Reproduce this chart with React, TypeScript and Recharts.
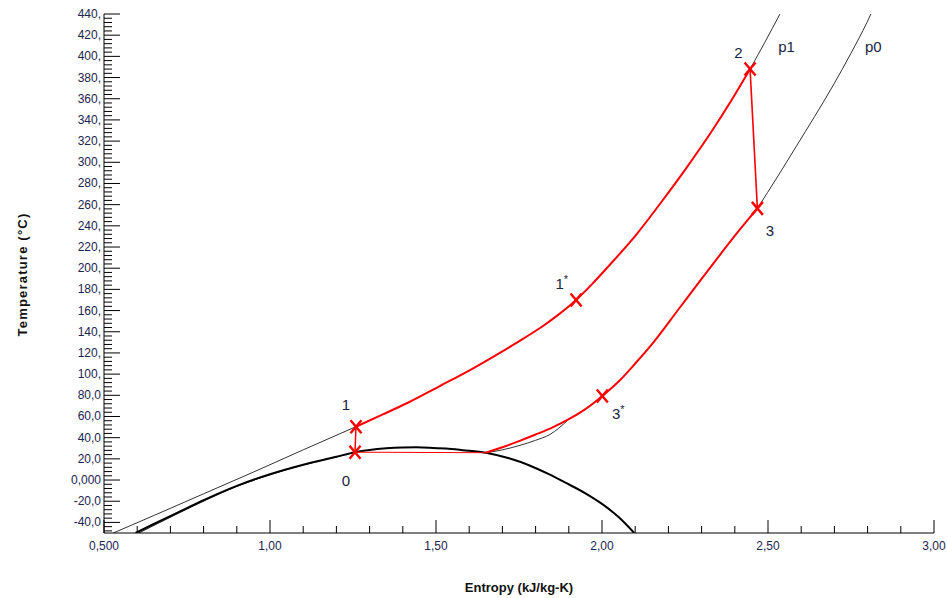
import { ComposedChart, Line, Scatter, XAxis, YAxis } from "recharts";

type Pt = [number, number]; // [entropy kJ/kg-K, temperature °C]

// saturation dome, liquid side -> critical point -> vapour side
const satDome: Pt[] = [
  [0.595, -50], [0.65, -41.5], [0.72, -31], [0.8, -19], [0.9, -5.5], [1.0, 5.5],
  [1.1, 14.5], [1.2, 22], [1.256, 26.3], [1.3, 28.4], [1.35, 29.9], [1.4, 30.7],
  [1.44, 30.9], [1.48, 30.6], [1.53, 29.7], [1.58, 28.2], [1.65, 25.8], [1.72, 20.5],
  [1.78, 14], [1.84, 5.5], [1.89, -2.5], [1.95, -12.5], [2.0, -22.5], [2.05, -35], [2.097, -50],
];

// isobars (black, thin)
const p0Liquid: Pt[] = [
  [0.605, -50], [0.72, -32], [0.81, -18.5], [0.9, -6], [1.0, 5], [1.1, 14.2], [1.2, 21.8], [1.256, 26.3],
];
const p1Liquid: Pt[] = [
  [0.528, -50], [0.65, -33.5], [0.8, -13], [0.95, 7.5], [1.1, 28.5], [1.259, 50.4],
];
const p0Vapour: Pt[] = [
  [1.65, 25.8], [1.7, 28.5], [1.75, 32.5], [1.8, 37.5], [1.843, 43], [1.87, 49], [1.9, 57.5],
];
const p0Top: Pt[] = [
  [2.468, 256.5], [2.53, 287], [2.586, 315.5], [2.64, 343], [2.697, 373], [2.75, 403], [2.798, 432], [2.81, 440],
];
const p1Top: Pt[] = [[2.446, 388], [2.49, 413], [2.536, 440]];

// cycle (red)
const highSide: Pt[] = [
  [1.259, 50.4], [1.34, 62], [1.412, 72.5], [1.51, 88.5], [1.612, 105.5], [1.7, 121.5],
  [1.763, 133.5], [1.82, 145], [1.864, 155], [1.922, 170], [1.97, 185], [2.02, 202],
  [2.104, 232], [2.18, 263], [2.255, 295], [2.33, 329], [2.39, 358.5], [2.446, 388],
];
const lowSide: Pt[] = [
  [1.65, 25.8], [1.7, 31], [1.75, 36.8], [1.8, 43], [1.853, 50], [1.9, 57.5], [1.95, 67],
  [2.001, 79.4], [2.05, 93], [2.1, 110], [2.155, 130], [2.23, 161], [2.305, 192],
  [2.36, 214.5], [2.41, 234.5], [2.468, 256.5],
];
const step23: Pt[] = [[2.446, 388], [2.468, 256.5]];
const step01: Pt[] = [[1.256, 26.3], [1.259, 50.4]];
const evaporation: Pt[] = [[1.256, 26.3], [1.65, 25.8]];

const statePoints = [
  { name: "0", s: 1.256, T: 26.3 },
  { name: "1", s: 1.259, T: 50.4 },
  { name: "1*", s: 1.922, T: 170 },
  { name: "2", s: 2.446, T: 388 },
  { name: "3", s: 2.468, T: 256.5 },
  { name: "3*", s: 2.001, T: 79.4 },
];

const pointLabels = [
  { text: "1", star: false, s: 1.229, T: 71 },
  { text: "0", star: false, s: 1.229, T: 0 },
  { text: "1", star: true, s: 1.879, T: 186 },
  { text: "2", star: false, s: 2.411, T: 404 },
  { text: "3", star: false, s: 2.506, T: 236 },
  { text: "3", star: true, s: 2.049, T: 63 },
  { text: "p1", star: false, s: 2.556, T: 409 },
  { text: "p0", star: false, s: 2.817, T: 409 },
];

const xMajor = [0.5, 1.0, 1.5, 2.0, 2.5, 3.0];
const yMajor = [-40, -20, 0, 20, 40, 60, 80, 100, 120, 140, 160, 180, 200, 220, 240, 260, 280, 300, 320, 340, 360, 380, 400, 420, 440];

// minor tick marks: every 0.1 on s, every 4 °C on T
const xTicks = Array.from({ length: 26 }, (_, i) => (i + 5) / 10);
const yTicks = Array.from({ length: 123 }, (_, i) => -48 + i * 4);

const rows = (pts: Pt[]) => pts.map(([s, T]) => ({ s, T }));

const FONT = '"Liberation Sans", Arial, sans-serif';
const LABEL = "#1c2450";

const fmt = (v: number) => {
  if (v === 0) return "0,000";
  const t = v.toPrecision(3).replace(".", ",");
  return Math.abs(v) >= 100 ? t + "," : t;
};

const isXMajor = (v: number) => xMajor.some((m) => Math.abs(m - v) < 1e-6);

const LeftTick = ({ x, y, payload }: any) => {
  const major = yMajor.includes(payload.value);
  return (
    <g>
      <line x1={x} x2={x + (major ? 16 : 8)} y1={y} y2={y} stroke="#000" />
      {major && (
        <text x={x - 3} y={y} textAnchor="end" dominantBaseline="central" fontSize={12} fill={LABEL} fontFamily={FONT}>
          {fmt(payload.value)}
        </text>
      )}
    </g>
  );
};

const RightTick = ({ x, y, payload }: any) => {
  const major = yMajor.includes(payload.value);
  return <line x1={x} x2={x - (major ? 9 : 5)} y1={y} y2={y} stroke="#000" />;
};

const BottomTick = ({ x, y, payload }: any) => {
  const major = isXMajor(payload.value);
  return (
    <g>
      <line x1={x} x2={x} y1={y} y2={y - (major ? 13 : 7)} stroke="#000" />
      {major && (
        <text x={x} y={y + 13} textAnchor="middle" dominantBaseline="central" fontSize={12} fill={LABEL} fontFamily={FONT}>
          {fmt(payload.value)}
        </text>
      )}
    </g>
  );
};

const TopTick = ({ x, y, payload }: any) => {
  const major = isXMajor(payload.value);
  return <line x1={x} x2={x} y1={y} y2={y + (major ? 13 : 8)} stroke="#000" />;
};

const Cross = ({ cx, cy }: any) => (
  <g stroke="#f00" strokeWidth={2.4}>
    <line x1={cx - 5.5} y1={cy - 6.5} x2={cx + 5.5} y2={cy + 6.5} />
    <line x1={cx - 5.5} y1={cy + 6.5} x2={cx + 5.5} y2={cy - 6.5} />
  </g>
);

const PointText = ({ cx, cy, payload }: any) => (
  <text x={cx} y={cy} textAnchor="middle" dominantBaseline="central" fontSize={15} fill="#1a2340" fontFamily={FONT}>
    {payload.text}
    {payload.star && (
      <tspan fontSize={11} dy={-4}>
        *
      </tspan>
    )}
  </text>
);

const curve = (pts: Pt[], stroke: string, width: number, type: "monotone" | "linear" = "monotone") => (
  <Line
    data={rows(pts)}
    dataKey="T"
    type={type}
    stroke={stroke}
    strokeWidth={width}
    dot={false}
    activeDot={false}
    isAnimationActive={false}
  />
);

export default function App() {
  return (
    <>
      <style>{"body { margin: 0; }"}</style>
      <div style={{ padding: "8px 0 0 8px", width: 939, height: 590 }}>
        <ComposedChart width={939} height={590} margin={{ top: 6, right: 13, bottom: 0, left: 0 }}>
          <XAxis
            dataKey="s"
            type="number"
            domain={[0.5, 3]}
            allowDataOverflow
            ticks={xTicks}
            interval={0}
            tick={BottomTick}
            tickLine={false}
            tickSize={0}
            tickMargin={0}
            height={65}
            axisLine={{ stroke: "#000" }}
            label={(props: any) => {
              const { x, y, width } = props.viewBox;
              return (
                <text x={x + width / 2} y={y + 54} textAnchor="middle" dominantBaseline="central" fontSize={13} fontWeight="bold" fill="#111" fontFamily={FONT}>
                  Entropy (kJ/kg-K)
                </text>
              );
            }}
          />
          <XAxis
            xAxisId="top"
            orientation="top"
            dataKey="s"
            type="number"
            domain={[0.5, 3]}
            allowDataOverflow
            ticks={xTicks}
            interval={0}
            tick={TopTick}
            tickLine={false}
            tickSize={0}
            tickMargin={0}
            height={0}
            axisLine={{ stroke: "#000" }}
          />
          <YAxis
            dataKey="T"
            type="number"
            domain={[-50, 440]}
            allowDataOverflow
            ticks={yTicks}
            interval={0}
            tick={LeftTick}
            tickLine={false}
            tickSize={0}
            tickMargin={0}
            width={96}
            axisLine={{ stroke: "#000" }}
            label={(props: any) => {
              const { x, y, height } = props.viewBox;
              const cx = x + 14;
              const cy = y + height / 2 + 1;
              return (
                <text x={cx} y={cy} transform={`rotate(-90 ${cx} ${cy})`} textAnchor="middle" dominantBaseline="central" fontSize={13} letterSpacing={1.2} fontWeight="bold" fill="#111" fontFamily={FONT}>
                  Temperature (°C)
                </text>
              );
            }}
          />
          <YAxis
            yAxisId="right"
            orientation="right"
            dataKey="T"
            type="number"
            domain={[-50, 440]}
            allowDataOverflow
            ticks={yTicks}
            interval={0}
            tick={RightTick}
            tickLine={false}
            tickSize={0}
            tickMargin={0}
            width={0}
            axisLine={{ stroke: "#000" }}
          />

          {/* keeps the top/right frame axes bound to data */}
          <Line xAxisId="top" yAxisId="right" data={rows(satDome)} dataKey="T" stroke="none" dot={false} activeDot={false} isAnimationActive={false} />

          {curve(p1Liquid, "#333", 1)}
          {curve(p0Liquid, "#222", 1)}
          {curve(p0Vapour, "#333", 1)}
          {curve(p0Top, "#333", 1)}
          {curve(p1Top, "#333", 1)}
          {curve(satDome, "#000", 2)}

          {curve(evaporation, "#f00", 1, "linear")}
          {curve(step01, "#f00", 1.5, "linear")}
          {curve(step23, "#f00", 1.6, "linear")}
          {curve(lowSide, "#f00", 2)}
          {curve(highSide, "#f00", 2)}

          <Scatter data={statePoints} dataKey="T" shape={Cross} isAnimationActive={false} />
          <Scatter data={pointLabels} dataKey="T" shape={PointText} isAnimationActive={false} />
        </ComposedChart>
      </div>
    </>
  );
}
